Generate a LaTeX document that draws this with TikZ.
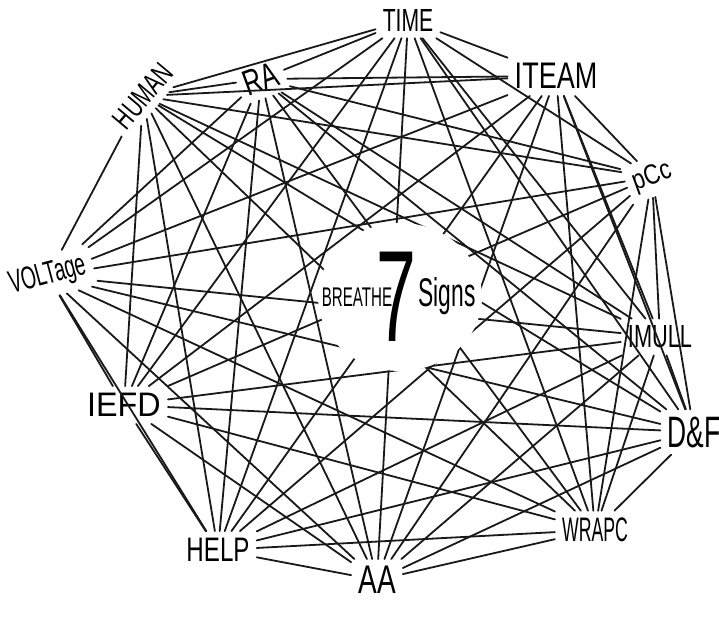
\documentclass[tikz,border=0pt]{standalone}
\usepackage{fontspec}
\setmainfont{Liberation Sans}
\usetikzlibrary{shapes.geometric}
\newcommand\hw[2]{\scalebox{#1}[1]{#2}}
\tikzset{
  lbl/.style={inner sep=7pt, text=black},
  edge/.style={line width=1.8pt, draw=black!90, line cap=round},
}
\begin{document}
\begin{tikzpicture}[x=1pt,y=-1pt]
\useasboundingbox[fill=white] (0,0) rectangle (719,620);
% outer labels
\node[lbl, font=\fontsize{32}{32}\selectfont] (time) at (408,20) {\hw{0.66}{TIME}};
\node[lbl, font=\fontsize{37}{37}\selectfont] (iteam) at (556,76) {\hw{0.73}{ITEAM}};
\node[lbl, font=\fontsize{28}{28}\selectfont, rotate=20] (pcc) at (652,177) {\hw{0.8}{pCc}};
\node[lbl, font=\fontsize{32}{32}\selectfont] (imull) at (660,337) {\hw{0.68}{IMULL}};
\node[lbl, font=\fontsize{44}{44}\selectfont] (df) at (694,432) {\hw{0.6}{D\&F}};
\node[lbl, font=\fontsize{34}{34}\selectfont] (wrapc) at (595,530) {\hw{0.52}{WRAPC}};
\node[lbl, font=\fontsize{40}{40}\selectfont] (aa) at (377,580) {\hw{0.7}{AA}};
\node[lbl, font=\fontsize{34}{34}\selectfont] (help) at (218,550) {\hw{0.71}{HELP}};
\node[lbl, font=\fontsize{34}{34}\selectfont] (iefd) at (124,405) {\hw{0.95}{IEFD}};
\node[lbl, font=\fontsize{32}{32}\selectfont, rotate=15] (volt) at (48,276) {\hw{0.6}{VOLTage}};
\node[lbl, font=\fontsize{30}{30}\selectfont, rotate=50] (human) at (143,96) {\hw{0.68}{HUMAN}};
\node[lbl, font=\fontsize{36}{36}\selectfont, rotate=20] (ra) at (261,79) {\hw{0.7}{RA}};
% connectors: every pair of outer labels
\foreach \a [count=\i] in {time,iteam,pcc,imull,df,wrapc,aa,help,iefd,volt,human,ra}{
  \foreach \b [count=\j] in {time,iteam,pcc,imull,df,wrapc,aa,help,iefd,volt,human,ra}{
    \ifnum\j>\i \draw[edge] (\a) -- (\b); \fi
  }
}
% empty centre
\node[ellipse, fill=white, minimum width=164pt, minimum height=148pt, inner sep=0pt] (hub) at (400,297) {};
\node[font=\fontsize{27}{27}\selectfont, inner sep=0pt] (breathe) at (357,297) {\hw{0.56}{BREATHE}};
\node[font=\fontsize{130}{130}\selectfont, inner sep=0pt] (seven) at (396,297) {\hw{0.55}{7}};
\node[font=\fontsize{40}{40}\selectfont, inner sep=0pt] (signs) at (447,296) {\hw{0.57}{Signs}};
\end{tikzpicture}
\end{document}
